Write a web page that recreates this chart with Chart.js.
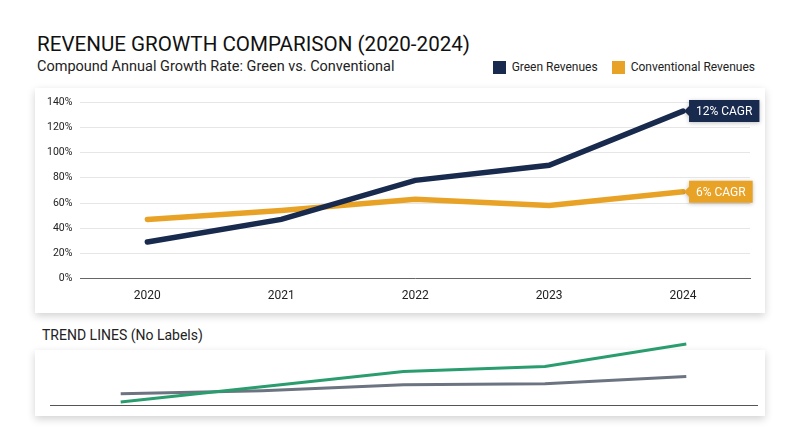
<!DOCTYPE html>
<html>
<head>
<meta charset="utf-8">
<script src="https://cdn.jsdelivr.net/npm/chart.js@4"></script>
<style>
  body { margin: 0; width: 800px; height: 447px; background: #fff; font-family: Roboto, sans-serif; position: relative; overflow: hidden; }
  .card { position: absolute; background: #fff; box-shadow: 0 3px 8px rgba(0,0,0,0.18); }
  #title { position: absolute; left: 37px; top: 32px; font-size: 20.6px; color: #111; }
  #subtitle { position: absolute; left: 37px; top: 58px; font-size: 14.5px; color: #222; }
  #legend { position: absolute; right: 45px; top: 60px; font-size: 12px; color: #222; display: flex; gap: 14px; }
  #legend span { display: inline-flex; align-items: center; }
  #legend i { display: inline-block; width: 13px; height: 13px; margin-right: 6px; }
  #trendTitle { position: absolute; left: 42px; top: 327px; font-size: 14px; color: #222; }
  canvas { position: absolute; }
</style>
</head>
<body>
<div id="title">REVENUE GROWTH COMPARISON (2020-2024)</div>
<div id="subtitle">Compound Annual Growth Rate: Green vs. Conventional</div>
<div id="legend">
  <span><i style="background:#182a4d"></i>Green Revenues</span>
  <span><i style="background:#e8a327"></i>Conventional Revenues</span>
</div>
<div class="card" style="left:35px;top:88px;width:730px;height:225px"></div>
<canvas id="main" style="left:35px;top:88px;width:730px;height:225px"></canvas>
<div id="trendTitle">TREND LINES (No Labels)</div>
<div class="card" style="left:35px;top:350px;width:730px;height:66px"></div>
<canvas id="trend" style="left:35px;top:330px;width:730px;height:86px"></canvas>
<script>
const years = ['2020', '2021', '2022', '2023', '2024'];
const greenGrowth = [29, 47, 78, 90, 133];
const conventionalGrowth = [47, 54, 63, 58, 69];
const yTicks = [0, 20, 40, 60, 80, 100, 120, 140];
const cagrLabels = ['12% CAGR', '6% CAGR'];
const greenTrend = [3, 18, 33, 38, 60];
const conventionalTrend = [11, 14, 20, 21, 28];

const navy = '#182a4d';
const orange = '#e8a327';

// Draws the CAGR tag boxes next to the last point of each line
const cagrTags = {
  id: 'cagrTags',
  afterDatasetsDraw(chart) {
    const ctx = chart.ctx;
    chart.data.datasets.forEach((ds, i) => {
      const pt = chart.getDatasetMeta(i).data[ds.data.length - 1];
      const text = cagrLabels[i];
      ctx.save();
      ctx.font = '12px Roboto';
      const w = ctx.measureText(text).width + 14;
      const h = 22;
      const x = pt.x + 6, y = pt.y - h / 2;
      ctx.shadowColor = 'rgba(0,0,0,0.25)';
      ctx.shadowBlur = 4;
      ctx.shadowOffsetY = 1;
      ctx.fillStyle = ds.borderColor;
      ctx.beginPath();
      ctx.moveTo(x - 5, pt.y);
      ctx.lineTo(x, pt.y - 5);
      ctx.lineTo(x, y);
      ctx.lineTo(x + w, y);
      ctx.lineTo(x + w, y + h);
      ctx.lineTo(x, y + h);
      ctx.lineTo(x, pt.y + 5);
      ctx.closePath();
      ctx.fill();
      ctx.shadowColor = 'transparent';
      ctx.fillStyle = '#fff';
      ctx.textBaseline = 'middle';
      ctx.fillText(text, x + 7, pt.y + 1);
      ctx.restore();
    });
  }
};

new Chart(document.getElementById('main'), {
  type: 'line',
  data: {
    labels: years,
    datasets: [
      { label: 'Green Revenues', data: greenGrowth, borderColor: navy, borderWidth: 5.5, pointRadius: 0, tension: 0, borderCapStyle: 'round' },
      { label: 'Conventional Revenues', data: conventionalGrowth, borderColor: orange, borderWidth: 5.5, pointRadius: 0, tension: 0, borderCapStyle: 'round' }
    ]
  },
  options: {
    responsive: false,
    animation: false,
    layout: { padding: { top: 8, right: 15, bottom: 0, left: 4 } },
    plugins: { legend: { display: false }, tooltip: { enabled: false } },
    scales: {
      x: {
        offset: true,
        grid: { display: false, drawTicks: false },
        border: { color: '#666', width: 1 },
        ticks: { color: '#222', font: { family: 'Roboto', size: 12 }, padding: 10 }
      },
      y: {
        min: 0, max: 140,
        afterBuildTicks: axis => { axis.ticks = yTicks.map(v => ({ value: v })); },
        grid: { color: '#e6e6e6', drawTicks: false },
        border: { display: false },
        ticks: { color: '#222', font: { family: 'Roboto', size: 10.5 }, padding: 8, callback: v => v + '%' }
      }
    }
  },
  plugins: [cagrTags]
});

new Chart(document.getElementById('trend'), {
  type: 'line',
  data: {
    labels: years,
    datasets: [
      { data: greenTrend, borderColor: '#2a9d6e', borderWidth: 3, pointRadius: 0, tension: 0 },
      { data: conventionalTrend, borderColor: '#6b7480', borderWidth: 3, pointRadius: 0, tension: 0 }
    ]
  },
  options: {
    responsive: false,
    animation: false,
    layout: { padding: { top: 10, right: 8, bottom: 11, left: 15 } },
    plugins: { legend: { display: false }, tooltip: { enabled: false } },
    scales: {
      x: { offset: true, grid: { display: false, drawTicks: false }, border: { color: '#555', width: 1 }, ticks: { display: false } },
      y: { display: false, min: 0, max: 64 }
    }
  }
});
</script>
</body>
</html>
